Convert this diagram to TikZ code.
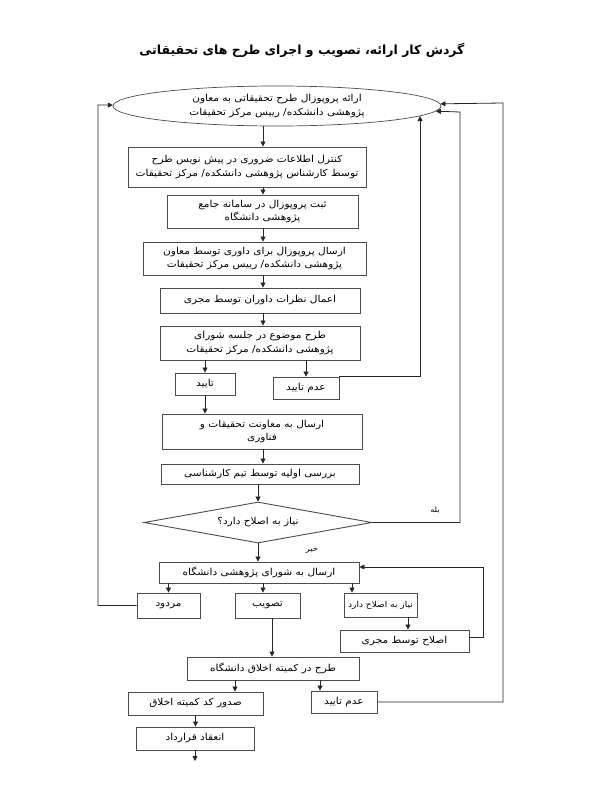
\documentclass[tikz,border=0pt]{standalone}
\usepackage{fontspec}
\usetikzlibrary{shapes.geometric,arrows.meta}
\newfontfamily\arabicfont[Script=Arabic,FakeStretch=1.1]{DejaVu Sans}
\newfontfamily\arabictitle[Script=Arabic]{DejaVu Sans}
\TeXXeTstate=1
\newcommand\pers[1]{\beginR #1\endR}
\begin{document}
\begin{tikzpicture}[x=1pt,y=-1pt,
  box/.style={draw=black!70,line width=0.9pt,rectangle,inner sep=1pt,align=center,
    font=\arabicfont\fontsize{9.6}{13.5}\selectfont},
  arr/.style={draw=black!85,line width=0.8pt,-{Triangle[length=5pt,width=5pt]}},
  lbl/.style={font=\arabicfont\fontsize{7.5}{9}\selectfont,inner sep=0pt}]
\useasboundingbox (0,0) rectangle (600,800);
\fill[white] (0,0) rectangle (600,800);
% title
\node[font=\arabictitle\bfseries\fontsize{12.5}{15}\selectfont] (title) at (302,50)
  {\pers{گردش کار ارائه، تصویب و اجرای طرح های تحقیقاتی}};
% nodes
\node[box,ellipse,line width=0.7pt,inner sep=0pt,minimum width=328pt,minimum height=40pt] (ell) at (277,106)
  {\pers{ارائه پروپوزال طرح تحقیقاتی به معاون}\\\pers{پژوهشی دانشکده/ رییس مرکز تحقیقات}};
\node[box,minimum width=238pt,minimum height=40pt] (b1) at (247,167)
  {\pers{کنترل اطلاعات ضروری در پیش نویس طرح}\\\pers{توسط کارشناس پژوهشی دانشکده/ مرکز تحقیقات}};
\node[box,minimum width=191pt,minimum height=33pt] (b2) at (262.5,211.5)
  {\pers{ثبت پروپوزال در سامانه جامع}\\\pers{پژوهشی دانشگاه}};
\node[box,minimum width=223pt,minimum height=33pt] (b3) at (254.5,258.5)
  {\pers{ارسال پروپوزال برای داوری توسط معاون}\\\pers{پژوهشی دانشکده/ رییس مرکز تحقیقات}};
\node[box,minimum width=200pt,minimum height=25pt] (b4) at (260,300.5)
  {\pers{اعمال نظرات داوران توسط مجری}};
\node[box,minimum width=200pt,minimum height=34pt] (b5) at (260,343)
  {\pers{طرح موضوع در جلسه شورای}\\\pers{پژوهشی دانشکده/ مرکز تحقیقات}};
\node[box,minimum width=60pt,minimum height=22pt] (tay) at (205,384) {\pers{تایید}};
\node[box,minimum width=66pt,minimum height=22pt] (adam1) at (306,388) {\pers{عدم تایید}};
\node[box,minimum width=200pt,minimum height=35pt] (b6) at (262,431.5)
  {\pers{ارسال به معاونت تحقیقات و}\\\pers{فناوری}};
\node[box,minimum width=198pt,minimum height=20pt] (b7) at (260,474)
  {\pers{بررسی اولیه توسط تیم کارشناسی}};
\node[box,diamond,aspect=5.5,inner sep=0pt,minimum width=228pt,minimum height=41pt] (dia) at (258,522.5)
  {\pers{نیاز به اصلاح دارد؟}};
\node[box,minimum width=200pt,minimum height=21pt] (b8) at (259,572.5)
  {\pers{ارسال به شورای پژوهشی دانشگاه}};
\node[box,minimum width=63pt,minimum height=25pt] (mard) at (168.5,605.5) {\pers{مردود}};
\node[box,minimum width=65pt,minimum height=25pt] (tasv) at (267.5,605.5) {\pers{تصویب}};
\node[box,font=\arabicfont\fontsize{8.2}{10}\selectfont,minimum width=73pt,minimum height=24pt] (niaz) at (380.5,605) {\pers{نیاز به اصلاح دارد}};
\node[box,minimum width=129pt,minimum height=22pt] (eslah) at (404.5,641) {\pers{اصلاح توسط مجری}};
\node[box,minimum width=172pt,minimum height=23pt] (ethic) at (273,668.5) {\pers{طرح در کمیته اخلاق دانشگاه}};
\node[box,minimum width=135pt,minimum height=23pt] (sodur) at (195.5,703.5) {\pers{صدور کد کمیته اخلاق}};
\node[box,minimum width=66pt,minimum height=22pt] (adam2) at (344,702) {\pers{عدم تایید}};
\node[box,minimum width=118pt,minimum height=23pt] (enegh) at (195,738.5) {\pers{انعقاد قرارداد}};
\node[lbl] (bale) at (435,510) {\pers{بله}};
\node[lbl] (kheir) at (312,550) {\pers{خیر}};
% column coordinates
\coordinate (c263) at (263,0);
\coordinate (c272) at (272,0);
\coordinate (c352) at (352,0);
\coordinate (c408) at (408,0);
\coordinate (c235) at (235,0);
\coordinate (c320) at (320,0);
\coordinate (l1) at (98,105);
\coordinate (r2) at (460,112);
\coordinate (r3) at (503,103);
\coordinate (r4) at (483,567);
\coordinate (fin) at (195,761);
% main chain
\draw[arr] (ell.south -| c263) -- (b1.north -| c263);
\draw[arr] (b1.south -| c263) -- (b2.north -| c263);
\draw[arr] (b2.south -| c263) -- (b3.north -| c263);
\draw[arr] (b3.south -| c263) -- (b4.north -| c263);
\draw[arr] (b4.south -| c263) -- (b5.north -| c263);
\draw[arr] (b5.south -| tay) -- (tay.north);
\draw[arr] (b5.south -| adam1) -- (adam1.north);
\draw[arr] (tay.south) -- (tay.south |- b6.north);
\draw[arr] (b6.south -| c263) -- (b7.north -| c263);
\draw[arr] (b7.south -| dia) -- (dia.north);
\draw[arr] (dia.south) -- (dia.south |- b8.north);
\draw[arr] (b8.south -| mard) -- (mard.north);
\draw[arr] (b8.south -| c263) -- (tasv.north -| c263);
\draw[arr] (b8.south -| c352) -- (niaz.north -| c352);
\draw[arr] (niaz.south -| c408) -- (eslah.north -| c408);
\draw[arr] (tasv.south -| c272) -- (ethic.north -| c272);
\draw[arr] (ethic.south -| c235) -- (sodur.north -| c235);
\draw[arr] (ethic.south -| c320) -- (adam2.north -| c320);
\draw[arr] (sodur.south) -- (sodur.south |- enegh.north);
\draw[arr] (enegh.south) -- (fin);
% feedback loops
\draw[arr] (adam1.north east) -| (ell.-4.25);
\draw[arr] (dia.east) -| (r2) -- (ell);
\draw[arr] (adam2.east) -| (r3) -- (ell);
\draw[arr] (mard.west) -| (l1) -- (ell);
\draw[arr] ([yshift=4pt]eslah.east) -| (r4) -- (r4 -| b8.east);
\end{tikzpicture}
\end{document}
